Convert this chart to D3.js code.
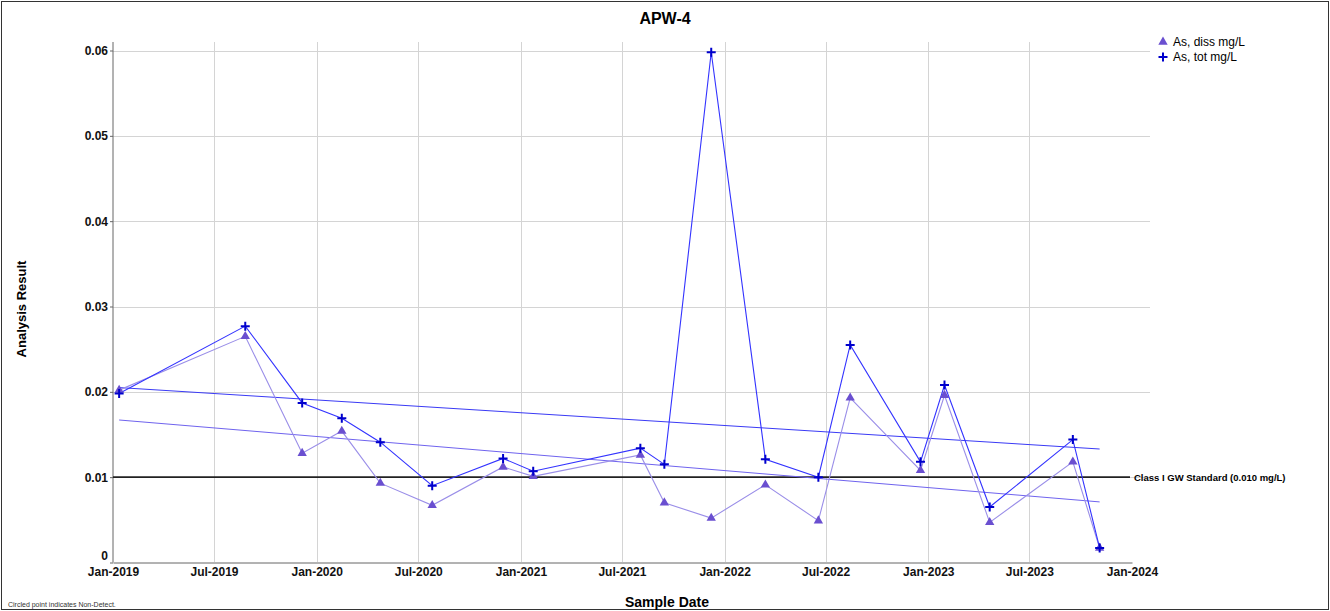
<!DOCTYPE html>
<html><head><meta charset="utf-8">
<script src="https://cdn.jsdelivr.net/npm/d3@7"></script>
<style>body{margin:0;background:#fff}svg{display:block;font-family:"Liberation Sans",Arial,sans-serif}</style>
</head><body><svg id="c" width="1330" height="611"></svg>
<script>
const dates = ["2019-01-12","2019-08-26","2019-12-06","2020-02-15","2020-04-24","2020-07-26","2020-11-30","2021-01-23","2021-08-03","2021-09-15","2021-12-08","2022-03-15","2022-06-18","2022-08-14","2022-12-18","2023-01-30","2023-04-21","2023-09-17","2023-11-04"];
const totValues  = [0.0198,0.0277,0.0187,0.0169,0.0141,0.0090,0.0122,0.0107,0.0134,0.0115,0.0598,0.0121,0.0100,0.0255,0.0118,0.0208,0.0065,0.0144,0.0017];
const dissValues = [0.0202,0.0265,0.0128,0.0154,0.0093,0.0067,0.0112,0.0101,0.0126,0.0070,0.0052,0.0091,0.0049,0.0193,0.0108,0.0196,0.0047,0.0118,0.0017];
const totTrend  = [0.0205,0.0133];
const dissTrend = [0.0167,0.0071];
const yTicks = [0,0.01,0.02,0.03,0.04,0.05,0.06];
const xTickDates = ["2019-01-01","2019-07-01","2020-01-01","2020-07-01","2021-01-01","2021-07-01","2022-01-01","2022-07-01","2023-01-01","2023-07-01","2024-01-01"];
const standardValue = 0.010;
const standardLabel = "Class I GW Standard (0.010 mg/L)";
const seriesNames = ["As, diss mg/L","As, tot mg/L"];

const svg = d3.select("#c");
const parse = d3.utcParse("%Y-%m-%d");
const fmt = d3.utcFormat("%b-%Y");
const x = d3.scaleUtc().domain([parse("2019-01-01"), parse("2024-01-01")]).range([113, 1132]);
const y = d3.scaleLinear().domain([0, 0.06]).range([562.5, 50.5]);
const plotTop = 42, gridRight = 1150;

// frame
svg.append("rect").attr("x",1.5).attr("y",1.5).attr("width",1327).attr("height",608).attr("fill","none").attr("stroke","#333").attr("stroke-width",1);

// title
svg.append("text").attr("x",665).attr("y",24).attr("text-anchor","middle").attr("font-size",16).attr("font-weight","bold").text("APW-4");

// grid
svg.append("g").selectAll("line").data(xTickDates.slice(1,-1)).join("line")
  .attr("x1",d=>Math.round(x(parse(d)))+0.5).attr("x2",d=>Math.round(x(parse(d)))+0.5)
  .attr("y1",plotTop).attr("y2",562).attr("stroke","#d4d4d4");
svg.append("g").selectAll("line").data(yTicks.slice(1)).join("line")
  .attr("x1",113).attr("x2",gridRight).attr("y1",d=>Math.round(y(d))+0.5).attr("y2",d=>Math.round(y(d))+0.5).attr("stroke","#d4d4d4");

// axes
const yAxis = d3.axisLeft(y).tickValues(yTicks).tickSize(3).tickFormat(d=>d===0?"0":d3.format(".2f")(d));
const gy = svg.append("g").attr("transform","translate(113,0)").call(yAxis);
gy.select(".domain").attr("d","M0,"+plotTop+"V562.5").attr("stroke","#666");
gy.selectAll(".tick line").attr("stroke","#666");
gy.selectAll(".tick text").attr("font-size",12).attr("font-weight","bold").attr("fill","#111").attr("x",-5)
  .attr("dy",d=>d===0?"-0.25em":"0.32em");
gy.attr("font-family",null);

const xAxis = d3.axisBottom(x).tickValues(xTickDates.map(parse)).tickSize(0).tickFormat(fmt);
const gx = svg.append("g").attr("transform","translate(0,562.5)").call(xAxis);
gx.select(".domain").attr("stroke","#666");
gx.selectAll(".tick text").attr("font-size",12).attr("font-weight","bold").attr("fill","#111").attr("dy","0.9em");
gx.attr("font-family",null);

// axis titles
svg.append("text").attr("transform","translate(26,309) rotate(-90)").attr("text-anchor","middle").attr("font-size",13).attr("font-weight","bold").text("Analysis Result");
svg.append("text").attr("x",667).attr("y",607).attr("text-anchor","middle").attr("font-size",14).attr("font-weight","bold").text("Sample Date");
svg.append("text").attr("x",8).attr("y",607).attr("font-size",7).attr("fill","#333").text("Circled point indicates Non-Detect.");

// standard line
svg.append("line").attr("x1",113).attr("x2",1130).attr("y1",y(standardValue)).attr("y2",y(standardValue)).attr("stroke","#222").attr("stroke-width",1.6);
svg.append("text").attr("x",1134).attr("y",y(standardValue)+3.5).attr("font-size",9.5).attr("font-weight","bold").text(standardLabel);

const first = parse(dates[0]), last = parse(dates[dates.length-1]);
// trend lines
svg.append("line").attr("x1",x(first)).attr("x2",x(last)).attr("y1",y(dissTrend[0])).attr("y2",y(dissTrend[1])).attr("stroke","#6f63ee").attr("stroke-width",1);
svg.append("line").attr("x1",x(first)).attr("x2",x(last)).attr("y1",y(totTrend[0])).attr("y2",y(totTrend[1])).attr("stroke","#3a3af5").attr("stroke-width",1);

const dissData = dates.map((d,i)=>({d:parse(d),v:dissValues[i]}));
const totData = dates.map((d,i)=>({d:parse(d),v:totValues[i]}));
const line = d3.line().x(p=>x(p.d)).y(p=>y(p.v));

svg.append("path").datum(dissData).attr("d",line).attr("fill","none").attr("stroke","#9a8ee8").attr("stroke-width",1.1);
svg.append("path").datum(totData).attr("d",line).attr("fill","none").attr("stroke","#3333ff").attr("stroke-width",1.1);

const tri = d3.symbol().type(d3.symbolTriangle).size(38);
svg.append("g").selectAll("path").data(dissData).join("path")
  .attr("transform",p=>`translate(${x(p.d)},${y(p.v)})`).attr("d",tri).attr("fill","#6a4fd0");
const cross = "M-4.5,0H4.5M0,-4.5V4.5";
svg.append("g").selectAll("path").data(totData).join("path")
  .attr("transform",p=>`translate(${x(p.d)},${y(p.v)})`).attr("d",cross).attr("stroke","#0000cc").attr("stroke-width",2);

// legend
const lg = svg.append("g");
lg.append("path").attr("transform","translate(1163,42)").attr("d",tri).attr("fill","#6a4fd0");
lg.append("path").attr("transform","translate(1163,57)").attr("d",cross).attr("stroke","#0000cc").attr("stroke-width",2);
lg.append("text").attr("x",1173).attr("y",46).attr("font-size",12).text(seriesNames[0]);
lg.append("text").attr("x",1173).attr("y",61).attr("font-size",12).text(seriesNames[1]);
</script></body></html>
